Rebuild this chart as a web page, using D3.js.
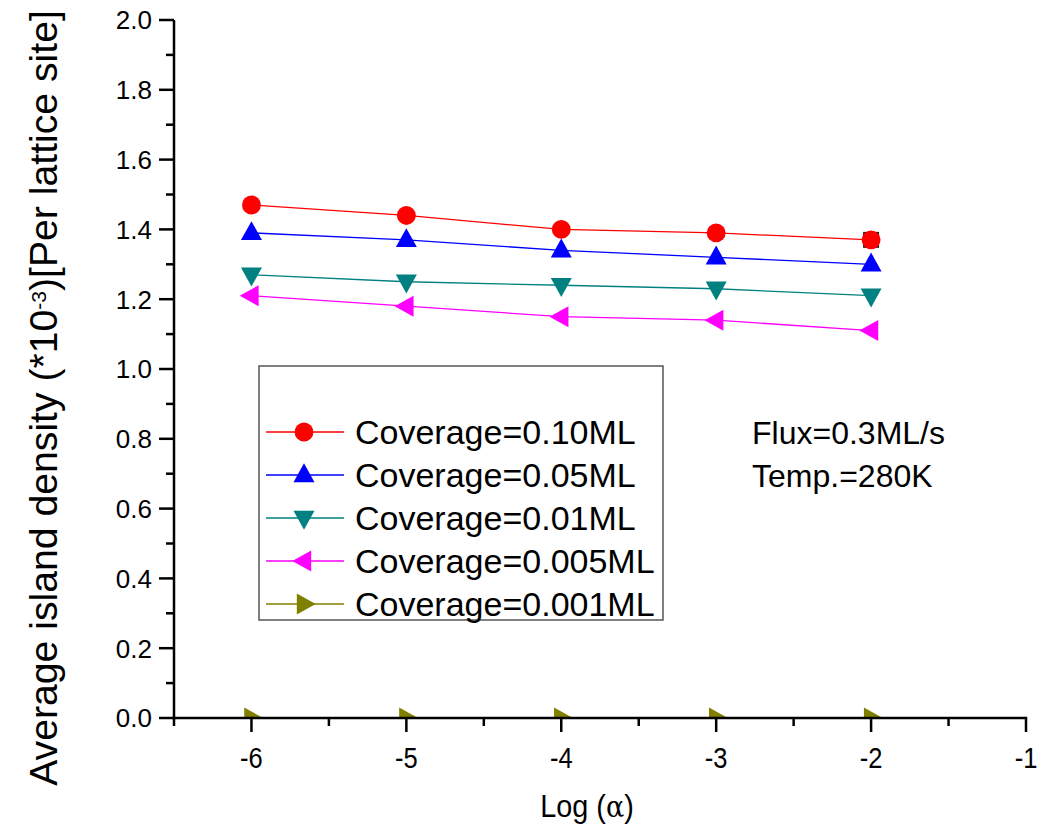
<!DOCTYPE html>
<html>
<head>
<meta charset="utf-8">
<script src="https://cdn.jsdelivr.net/npm/d3@7"></script>
<style>
  html, body { margin: 0; padding: 0; background: #fff; }
  svg { display: block; font-family: "Liberation Sans", Arial, sans-serif; }
</style>
</head>
<body>
<svg id="chart" width="1040" height="832"></svg>
<script>
// ---- Data ----
const logAlpha = [-6, -5, -4, -3, -2];
const cov010 = [1.47, 1.44, 1.40, 1.39, 1.37];
const cov005 = [1.39, 1.37, 1.34, 1.32, 1.30];
const cov001 = [1.27, 1.25, 1.24, 1.23, 1.21];
const cov0005 = [1.21, 1.18, 1.15, 1.14, 1.11];
const cov0001 = [0, 0, 0, 0, 0];
const seriesNames = ["Coverage=0.10ML", "Coverage=0.05ML", "Coverage=0.01ML", "Coverage=0.005ML", "Coverage=0.001ML"];
const xTicks = [-6, -5, -4, -3, -2, -1];
const xTickLabels = ["-6", "-5", "-4", "-3", "-2", "-1"];
const yTicks = [0, 0.2, 0.4, 0.6, 0.8, 1.0, 1.2, 1.4, 1.6, 1.8, 2.0];
const yTickLabels = ["0.0", "0.2", "0.4", "0.6", "0.8", "1.0", "1.2", "1.4", "1.6", "1.8", "2.0"];
const annotations = ["Flux=0.3ML/s", "Temp.=280K"];

const colors = ["#ff0000", "#0000ff", "#008080", "#ff00ff", "#808000"];
const symbols = ["circle", "up", "down", "left", "right"];
const seriesVals = [cov010, cov005, cov001, cov0005, cov0001];

const svg = d3.select("#chart");
svg.append("rect").attr("width", 1040).attr("height", 832).attr("fill", "#fff");

const x = d3.scaleLinear().domain([-6.5, -1]).range([174, 1026]);
const y = d3.scaleLinear().domain([0, 2]).range([718, 20]);

svg.append("defs").append("clipPath").attr("id", "plotclip")
  .append("rect").attr("x", 174).attr("y", 0).attr("width", 866).attr("height", 718);

function markerPath(sym, s) {
  const h = s * 0.9;
  switch (sym) {
    case "up": return `M0,${-h*0.62}L${s/2},${h*0.38}L${-s/2},${h*0.38}Z`;
    case "down": return `M0,${h*0.62}L${s/2},${-h*0.38}L${-s/2},${-h*0.38}Z`;
    case "left": return `M${-h*0.62},0L${h*0.38},${s/2}L${h*0.38},${-s/2}Z`;
    case "right": return `M${h*0.62},0L${-h*0.38},${s/2}L${-h*0.38},${-s/2}Z`;
  }
  return "";
}
function drawMarker(g, sym, cx, cy, color, s) {
  if (sym === "circle") {
    g.append("circle").attr("cx", cx).attr("cy", cy).attr("r", s * 0.45).attr("fill", color);
  } else {
    g.append("path").attr("d", markerPath(sym, s))
      .attr("transform", `translate(${cx},${cy})`).attr("fill", color);
  }
}

const plot = svg.append("g").attr("clip-path", "url(#plotclip)");
const line = d3.line().x(d => x(d[0])).y(d => y(d[1]));

seriesVals.forEach((vals, i) => {
  const pts = logAlpha.map((a, j) => [a, vals[j]]);
  plot.append("path").datum(pts).attr("d", line)
    .attr("fill", "none").attr("stroke", colors[i]).attr("stroke-width", 1.3);
});
{
  const lx = x(logAlpha[4]), ly = y(cov010[4]);
  plot.append("rect").attr("x", lx - 8).attr("y", ly - 8).attr("width", 16).attr("height", 16)
    .attr("fill", "#222");
}
seriesVals.forEach((vals, i) => {
  logAlpha.forEach((a, j) => drawMarker(plot, symbols[i], x(a), y(vals[j]), colors[i], 21));
});

// ---- Axes ----
const axisG = svg.append("g").attr("stroke", "#000").attr("stroke-width", 2.5).attr("fill", "none");
axisG.append("line").attr("x1", x(-6.5)).attr("x2", x(-6.5)).attr("y1", y(2)).attr("y2", y(0) + 1.2);
axisG.append("line").attr("x1", x(-6.5) - 1.2).attr("x2", x(-1) + 1.2).attr("y1", y(0)).attr("y2", y(0));

const yMinor = d3.range(0, 2.001, 0.1);
yMinor.forEach(v => {
  const major = Math.abs(Math.round(v * 5) - v * 5) < 1e-6;
  axisG.append("line").attr("x1", x(-6.5)).attr("x2", x(-6.5) - (major ? 15 : 8))
    .attr("y1", y(v)).attr("y2", y(v));
});
svg.append("g").selectAll("text").data(yTicks).join("text")
  .attr("x", 152).attr("y", d => y(d)).attr("dy", "0.36em")
  .attr("text-anchor", "end").attr("font-size", 26).attr("fill", "#000")
  .text((d, i) => yTickLabels[i]);

const xMinor = d3.range(-6.5, -0.999, 0.5);
xMinor.forEach(v => {
  const major = Math.abs(v - Math.round(v)) < 1e-6;
  axisG.append("line").attr("x1", x(v)).attr("x2", x(v))
    .attr("y1", y(0)).attr("y2", y(0) + (major ? 14 : 8));
});
svg.append("g").selectAll("text").data(xTicks).join("text")
  .attr("transform", d => `translate(${x(d)},768) scale(0.85,1)`)
  .attr("text-anchor", "middle").attr("font-size", 30).attr("fill", "#000")
  .text((d, i) => xTickLabels[i]);

// axis titles
const xt = svg.append("text").attr("transform", "translate(587,817) scale(0.9,1)").attr("text-anchor", "middle")
  .attr("font-size", 32).attr("fill", "#000");
xt.append("tspan").text("Log (");
xt.append("tspan").attr("font-family", "'DejaVu Serif', 'Liberation Serif', serif").attr("font-size", 30).text("α");
xt.append("tspan").text(")");

const yt = svg.append("text")
  .attr("text-anchor", "middle").attr("font-size", 39).attr("fill", "#000");
yt.append("tspan").text("Average island density (*10");
yt.append("tspan").attr("baseline-shift", "super").attr("font-size", 21).text("-3");
yt.append("tspan").text(")[Per lattice site]");
{
  const len = yt.node().getComputedTextLength();
  const k = 776 / len;
  yt.attr("transform", `translate(57,398) rotate(-90) scale(${k},1)`);
}

// ---- Legend ----
const lg = svg.append("g");
lg.append("rect").attr("x", 259).attr("y", 366).attr("width", 404).attr("height", 254)
  .attr("fill", "#fff").attr("stroke", "#555").attr("stroke-width", 1.5);
seriesNames.forEach((name, i) => {
  const cy = 432 + i * 43;
  lg.append("line").attr("x1", 266).attr("x2", 344).attr("y1", cy).attr("y2", cy)
    .attr("stroke", colors[i]).attr("stroke-width", 1.3);
  drawMarker(lg, symbols[i], 304, cy, colors[i], 21);
  lg.append("text").attr("x", 355).attr("y", cy).attr("dy", "0.36em")
    .attr("font-size", 34).attr("fill", "#000").text(name);
});

annotations.forEach((t, i) => {
  svg.append("text").attr("x", 752).attr("y", 432 + i * 43).attr("dy", "0.36em")
    .attr("font-size", 32).attr("fill", "#000").text(t);
});
</script>
</body>
</html>
